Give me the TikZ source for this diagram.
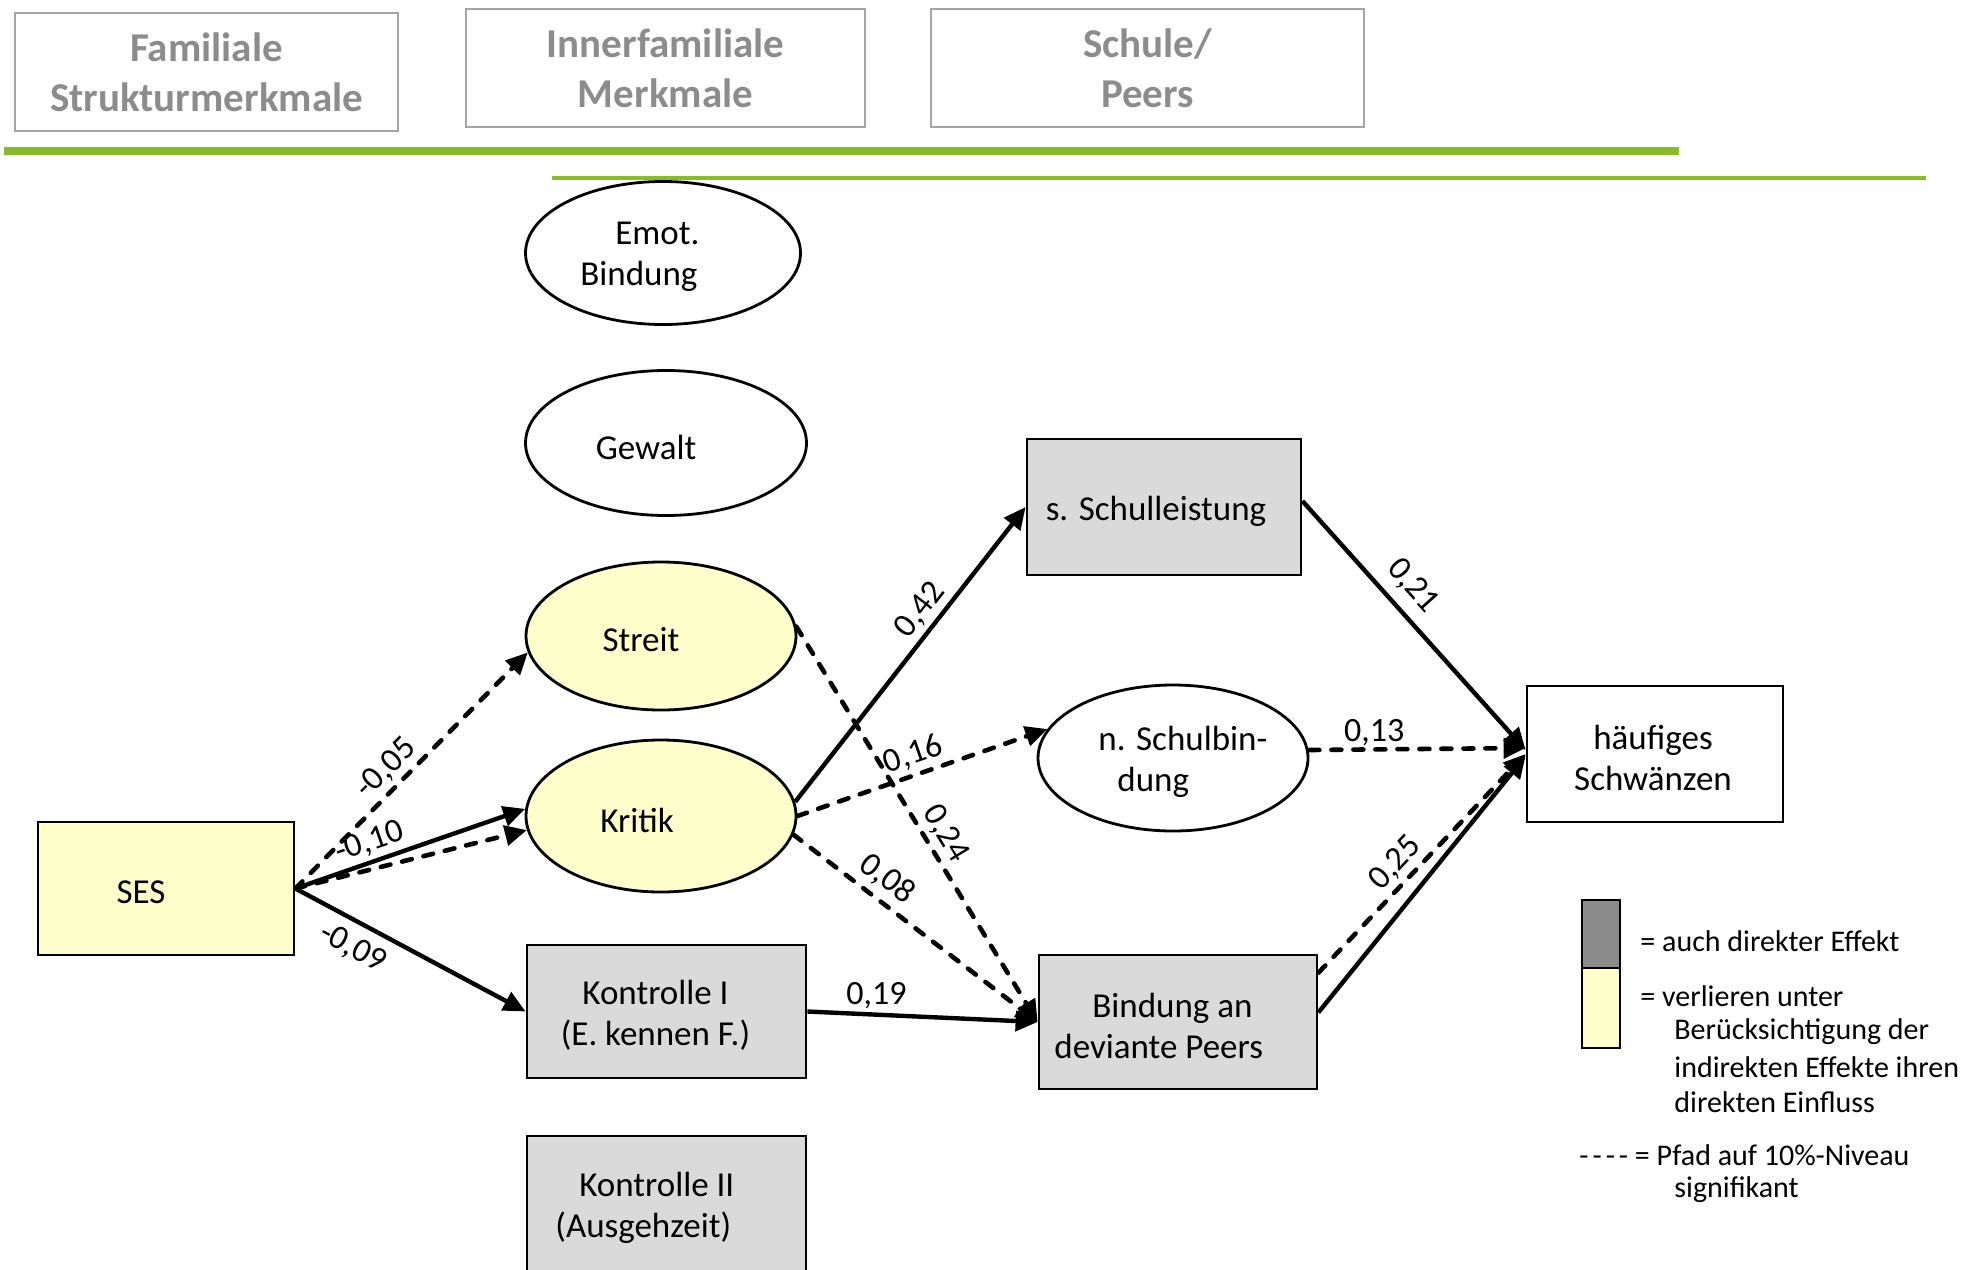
\documentclass[tikz,border=0pt]{standalone}
\usepackage{fontspec}
\setmainfont{Carlito}
\usetikzlibrary{arrows.meta,calc,shapes.geometric}
\definecolor{grn}{RGB}{137,188,40}
\definecolor{ylw}{RGB}{255,255,204}
\definecolor{gryf}{RGB}{218,218,218}
\definecolor{hdr}{RGB}{140,140,140}
\definecolor{hdrb}{RGB}{165,165,165}
\definecolor{dkg}{RGB}{140,140,140}
\begin{document}
\begin{tikzpicture}[x=0.5pt,y=-0.5pt,
  hbox/.style={draw=hdrb,line width=1pt,text=hdr,align=center,font=\fontsize{20.5}{25}\selectfont\bfseries},
  ell/.style={ellipse,draw,line width=1.4pt,inner sep=0pt},
  box/.style={rectangle,draw,line width=1.4pt,inner sep=0pt},
  txt/.style={align=center,inner sep=0pt,font=\fontsize{17.5}{20.5}\selectfont},
  txtl/.style={align=left,inner sep=0pt,anchor=west,font=\fontsize{17.5}{20.5}\selectfont},
  lab/.style={inner sep=2pt,font=\fontsize{17}{20}\selectfont},
  leg/.style={inner sep=2pt,font=\fontsize{15}{17.5}\selectfont},
  tip/.style={-{Triangle[length=11pt,width=10pt]}},
  sol/.style={line width=2.2pt,tip},
  das/.style={line width=2.3pt,line cap=round,dash pattern=on 5pt off 6pt,tip}]
\useasboundingbox (0,0) rectangle (1968,1269);
% header
\node[hbox,minimum width=191.5pt,minimum height=59pt] (h1) at (206.5,72) {Familiale\\Strukturmerkmale};
\node[hbox,minimum width=199.5pt,minimum height=59pt] (h2) at (665.5,68) {Innerfamiliale\\Merkmale};
\node[hbox,minimum width=216.5pt,minimum height=59pt] (h3) at (1147.5,68) {Schule/\\Peers};
\fill[grn] (4,147) rectangle (1679,155);
\fill[grn] (552,176) rectangle (1926,180);
% nodes
\node[ell,minimum width=137.5pt,minimum height=71.5pt] (emot) at (663,253) {};
\node[txtl] (emotT) at (580,257) {\hspace*{17.5pt}Emot.\\Bindung};
\node[ell,minimum width=140.5pt,minimum height=72.5pt] (gewalt) at (666,443) {};
\node[txt] (gewaltT) at ([xshift=-10pt,yshift=-2pt]gewalt.center) {Gewalt};
\node[ell,fill=ylw,minimum width=135pt,minimum height=74pt] (streit) at (661,636) {};
\node[txt] (streitT) at ([xshift=-10pt,yshift=-2pt]streit.center) {Streit};
\node[ell,fill=ylw,minimum width=135pt,minimum height=76pt] (kritik) at (661,816) {};
\node[txt] (kritikT) at ([xshift=-12pt,yshift=-2pt]kritik.center) {Kritik};
\node[ell,minimum width=135pt,minimum height=73pt] (nsb) at (1173,758) {};
\node[txtl] (nsbT) at (1098,762) {n. Schulbin-\\\hspace*{9.5pt}dung};
\node[box,fill=ylw,minimum width=128pt,minimum height=66.5pt] (ses) at (166,888.5) {};
\node[txt] (sesT) at ([xshift=-12.5pt,yshift=-2pt]ses.center) {SES};
\node[box,fill=gryf,minimum width=139.5pt,minimum height=66.5pt] (k1) at (666.5,1011.5) {};
\node[txt] (k1T) at ([xshift=-5.5pt,yshift=-2pt]k1.center) {Kontrolle I\\(E. kennen F.)};
\node[box,fill=gryf,minimum width=139.5pt,minimum height=68pt] (k2) at (666.5,1204) {};
\node[txtl] (k2T) at (555,1208) {\hspace*{12pt}Kontrolle II\\(Ausgehzeit)};
\node[box,fill=gryf,minimum width=137pt,minimum height=68pt] (schul) at (1164,507) {};
\node[txt] (schulT) at ([xshift=-4pt,yshift=-2pt]schul.center) {s. Schulleistung};
\node[box,fill=gryf,minimum width=139pt,minimum height=67pt] (bind) at (1178,1022) {};
\node[txtl] (bindT) at (1054,1026) {\hspace*{19pt}Bindung an\\deviante Peers};
\node[box,fill=white,minimum width=128pt,minimum height=68pt] (haeuf) at (1655,754) {};
\node[txt] (haeufT) at ([xshift=-1pt,yshift=-2pt]haeuf.center) {häufiges\\Schwänzen};
% edges
\draw[sol] (ses.east) -- node[lab,sloped,above,pos=.35]{-0,10} (kritik.177);
\draw[das] (ses.east) -- (kritik.186);
\draw[das] (ses.east) -- node[lab,sloped,above,pos=.45]{-0,05} (streit.187);
\draw[sol] (ses.east) -- node[lab,sloped,below=3pt,pos=.3]{-0,09} (k1.west);
\draw[sol] (kritik.6) -- node[lab,sloped,above,pos=.61]{0,42} (schul.west);
\draw[das] (kritik.east) -- node[lab,sloped,above,pos=.49]{0,16} (nsb.167);
\draw[das] (kritik.-8) -- node[lab,sloped,above=1pt,pos=.33]{0,08} (bind.west);
\draw[das] (streit.4) -- node[lab,sloped,above,pos=.55]{0,24} (bind.west);
\draw[sol] (k1.east) -- node[lab,above,pos=.3]{0,19} (bind.west);
\draw[sol] ([yshift=3pt]schul.east) -- node[lab,sloped,above=3pt,pos=.41]{0,21} ([yshift=2pt]haeuf.west);
\draw[das] ([yshift=4pt]nsb.east) -- node[lab,above=-1.5pt,pos=.3]{0,13} ([yshift=3pt]haeuf.west);
\draw[sol] ($(bind.north east)!.43!(bind.south east)$) -- ([yshift=-1pt]haeuf.west);
\draw[das] ($(bind.north east)!.14!(bind.south east)$) -- node[lab,sloped,above,pos=.44]{0,25} (haeuf.west);
% legend
\draw[line width=1pt,fill=dkg] (1582,900) rectangle (1620,968);
\draw[line width=1pt,fill=ylw] (1582,968) rectangle (1620,1048);
\node[leg,anchor=west] (l1) at (1636,941) {= auch direkter Effekt};
\node[leg,anchor=west] (l2) at (1636,996) {= verlieren unter};
\node[leg,anchor=west] (l3) at (1670,1032) {Berücksichtigung der};
\node[leg,anchor=west] (l4) at (1670,1067) {indirekten Effekte ihren};
\node[leg,anchor=west] (l5) at (1670,1102) {direkten Einfluss};
\node[leg,anchor=west] (l6) at (1575,1155) {-\kern2pt-\kern2pt-\kern2pt- = Pfad auf 10\%-Niveau};
\node[leg,anchor=west] (l7) at (1670,1190) {signifikant};
\end{tikzpicture}
\end{document}
